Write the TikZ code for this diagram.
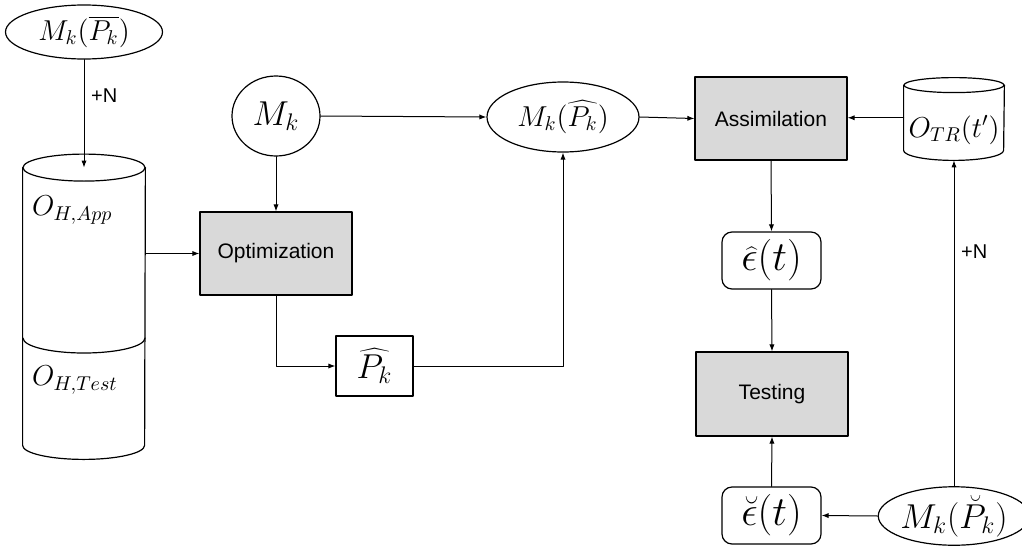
\documentclass[tikz,border=0pt]{standalone}
\usepackage{fontspec}
\setsansfont{Liberation Sans}
\usetikzlibrary{arrows.meta,shapes.geometric}
\definecolor{procgray}{gray}{0.85}

\begin{document}
\begin{tikzpicture}[x=0.5pt,y=0.5pt,line cap=round,line join=round,
  >={Latex[length=3.5pt,width=2.6pt]},
  flow/.style={->,line width=0.5pt},
  edge/.style={line width=0.6pt},
  process/.style={draw,edge,fill=procgray,minimum width=76pt,minimum height=41.5pt,
    inner sep=0pt,font=\sffamily\fontsize{10.5}{12}\selectfont},
  model/.style={draw,edge,ellipse,inner sep=0pt},
  param/.style={draw,edge,minimum width=38.5pt,minimum height=30pt,inner sep=0pt,font=\LARGE},
  errbox/.style={draw,edge,rounded corners=5pt,minimum width=49.5pt,minimum height=28.5pt,
    inner sep=0pt,font=\fontsize{19.5}{22}\selectfont},
  plusn/.style={font=\sffamily\fontsize{10}{12}\selectfont}]
\useasboundingbox (0,0) rectangle (1022,-546);

% --- reference model and history data ---
\node[model,minimum width=78.5pt,minimum height=27pt,font=\Large] (mbar) at (84,-32) {$M_k(\overline{P_k})$};
\node[minimum width=61pt,minimum height=138.5pt,inner sep=0pt] (hist) at (84,-306.5) {};
\draw[edge] (hist.north west) -- (hist.south west)
  arc[start angle=180,end angle=360,x radius=30.5pt,y radius=7pt] -- (hist.north east);
\draw[edge] (hist.north) ellipse[x radius=30.5pt,y radius=6.75pt];
\draw[edge] (23,-338) arc[start angle=180,end angle=360,x radius=30.5pt,y radius=7.5pt];
\node[anchor=west,font=\Large] (happ) at (25,-210) {$O_{H,App}$};
\node[anchor=west,font=\Large] (htest) at (25,-380) {$O_{H,Test}$};

\draw[flow] (mbar.south) -- (hist.north) node[plusn,right,pos=0.33] (addn1) {+N};

% --- optimization branch ---
\node[model,minimum width=44pt,minimum height=40pt,font=\LARGE] (mk) at (276,-116) {$M_k$};
\node[process] (opt) at (276,-253.5) {Optimization};
\node[param] (phat) at (374.5,-366) {$\widehat{P_k}$};
\node[model,minimum width=76pt,minimum height=35pt,font=\Large] (mhat) at (563,-117) {$M_k(\widehat{P_k})$};

\draw[flow] (hist.east |- opt.west) -- (opt.west);
\draw[flow] (mk.south) -- (opt.north);
\draw[flow] (mk.east) -- (mhat.west);
\draw[flow] (opt.south) |- (phat.west);
\draw[flow] (phat.east) -| (mhat.south);

% --- assimilation and testing ---
\node[process] (assim) at (771,-118.5) {Assimilation};
\node[minimum width=50pt,minimum height=32.25pt,inner sep=0pt] (otr) at (954,-117.75) {};
\draw[edge] (otr.north west) -- (otr.south west)
  arc[start angle=180,end angle=360,x radius=25pt,y radius=5pt] -- (otr.north east);
\draw[edge] (otr.north) ellipse[x radius=25pt,y radius=3.75pt];
\node[font=\Large] (otrlab) at (954,-130) {$O_{TR}(t')$};

\node[errbox] (ehat) at (771.5,-260.5) {$\widehat{\epsilon}(t)$};
\node[process,minimum height=42pt] (test) at (772,-394) {Testing};
\node[errbox] (echeck) at (771.5,-515.5) {$\breve{\epsilon}(t)$};
\node[model,minimum width=74pt,minimum height=29pt,font=\LARGE] (mcheck) at (954,-516) {$M_k(\breve{P}_k)$};

\draw[flow] (mhat.east) -- (assim.west);
\draw[flow] (otr.west) -- (otr.west -| assim.east);
\draw[flow] (assim.south) -- (ehat.north);
\draw[flow] (ehat.south) -- (test.north);
\draw[flow] (echeck.north) -- (test.south);
\draw[flow] (mcheck.west) -- (echeck.east);
\draw[flow,shorten >=5pt] (mcheck.north) -- (otr.south) node[plusn,right,pos=0.7] (addn2) {+N};

\end{tikzpicture}
\end{document}
